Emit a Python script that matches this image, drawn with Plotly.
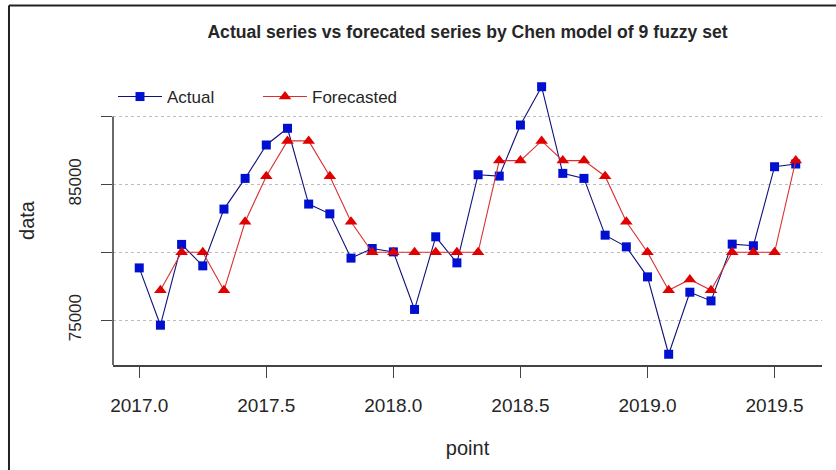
import plotly.graph_objects as go

# Monthly points, Jan 2017 .. Aug 2019
start_year = 2017.0
n_points = 32
points = [start_year + i / 12 for i in range(n_points)]

actual = [78850, 74630, 80580, 79000, 83180, 85440, 87900, 89130,
          83550, 82830, 79570, 80280, 80030, 75790, 81140, 79220,
          85710, 85610, 89370, 92190, 85810, 85440, 81260, 80400,
          78190, 72490, 77060, 76420, 80600, 80480, 86300, 86500]

forecasted = [None, 77200, 80000, 80000, 77200, 82250, 85600, 88200,
              88200, 85600, 82250, 80000, 80000, 80000, 80000, 80000,
              80000, 86750, 86750, 88200, 86750, 86750, 85600, 82250,
              80000, 77200, 78000, 77200, 80000, 80000, 80000, 86750]

x_ticks = [2017.0, 2017.5, 2018.0, 2018.5, 2019.0, 2019.5]
x_tick_text = ["2017.0", "2017.5", "2018.0", "2018.5", "2019.0", "2019.5"]
y_ticks = [75000, 80000, 85000, 90000]
y_tick_text = ["75000", "", "85000", ""]

x_range = [2016.8967, 2019.6867]
y_range = [71700, 92980]

FONT = "Liberation Sans, Arial, sans-serif"
INK = "#262626"

fig = go.Figure()
fig.add_trace(go.Scatter(
    x=points, y=actual, name="Actual", mode="lines+markers",
    line=dict(color="#10107a", width=1.1),
    marker=dict(symbol="square", size=9, color="#0010d0"),
    cliponaxis=False,
))
fig.add_trace(go.Scatter(
    x=points, y=forecasted, name="Forecasted", mode="lines+markers",
    line=dict(color="#d83030", width=1.1),
    marker=dict(symbol="triangle-up", size=11, color="#e00000"),
    cliponaxis=False,
))

# left axis line runs from the top tick down to the bottom of the box
fig.add_shape(type="line", xref="paper", yref="y", x0=0, x1=0,
              y0=y_range[0], y1=y_ticks[-1],
              line=dict(color="#444444", width=1.6))
# outer frame (top and left edges)
fig.add_shape(type="line", xref="paper", yref="paper",
              x0=-0.1467, x1=1.03, y0=1.244, y1=1.244,
              line=dict(color="#222222", width=2))
fig.add_shape(type="line", xref="paper", yref="paper",
              x0=-0.1467, x1=-0.1467, y0=1.244, y1=-0.4,
              line=dict(color="#222222", width=2))

fig.update_layout(
    width=836, height=470,
    margin=dict(l=113, r=14, t=76, b=105),
    paper_bgcolor="white", plot_bgcolor="white",
    font=dict(family=FONT, color=INK),
    title=dict(text="<b>Actual series vs forecated series by Chen model of 9 fuzzy set</b>",
               x=0.5, xref="paper", xanchor="center",
               y=1 - 32 / 470, yanchor="middle",
               font=dict(size=17.6, color=INK)),
    showlegend=True,
    legend=dict(orientation="h", x=0.0, xanchor="left",
                y=(365 - 97) / 289, yanchor="middle",
                bgcolor="rgba(0,0,0,0)", font=dict(size=17, color=INK),
                itemwidth=44, entrywidth=86),
    xaxis=dict(range=x_range, tickvals=x_ticks, ticktext=x_tick_text,
               showgrid=False, zeroline=False,
               showline=True, linecolor="#444444", linewidth=1.6,
               ticks="outside", ticklen=11, tickwidth=1.4, tickcolor="#444444",
               ticklabelstandoff=11,
               tickfont=dict(size=19, color=INK),
               title=dict(text="point", font=dict(size=20, color=INK), standoff=26)),
    yaxis=dict(range=y_range, tickvals=y_ticks, ticktext=y_tick_text,
               showgrid=True, gridcolor="#bdbdbd", gridwidth=1, griddash="dot",
               zeroline=False, showline=False,
               ticks="outside", ticklen=11, tickwidth=1.4, tickcolor="#444444",
               tickangle=-90, ticklabelstandoff=13,
               tickfont=dict(size=17, color=INK),
               title=dict(text="data", font=dict(size=20, color=INK), standoff=26)),
)

fig.write_html("out.html")
